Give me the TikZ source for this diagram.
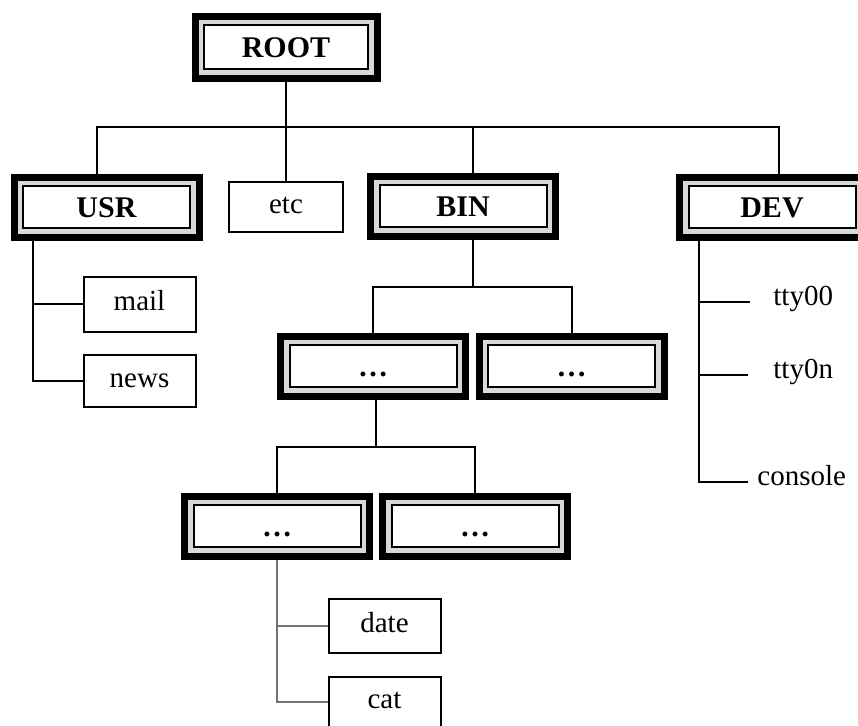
\documentclass[tikz,border=0pt]{standalone}
\usepackage{fontspec}
\setmainfont{Liberation Serif}

\newcommand{\dirfont}{\fontsize{15}{17}\selectfont\bfseries}
\newcommand{\filefont}{\fontsize{14.5}{16}\selectfont}

\tikzset{
  dirbox/.style={draw=black, line width=3.5pt, fill=gray!30, inner sep=0pt,
    minimum width=92.5pt, minimum height=30pt, font=\dirfont,
    text height=10pt, text depth=0pt,
    path picture={\draw[line width=1pt, fill=white]
      ([shift={(4.5pt,4.5pt)}]path picture bounding box.south west) rectangle
      ([shift={(-4.5pt,-4.5pt)}]path picture bounding box.north east);}},
  filebox/.style={draw=black, line width=1pt, fill=white, inner sep=0pt,
    minimum width=56pt, minimum height=26.5pt, font=\filefont,
    text height=8.5pt, text depth=2pt},
  devitem/.style={inner sep=0pt, anchor=west, font=\filefont,
    text height=8pt, text depth=4pt},
  link/.style={line width=1pt}
}

\begin{document}
\begin{tikzpicture}[x=0.5pt, y=-0.5pt]
% Page: 858 x 726 px, 1 px = 0.5pt, y grows downwards
\useasboundingbox (0,0) rectangle (858,726);
\fill[white] (0,0) rectangle (858,726);

% Top level
\node[dirbox, minimum width=91pt, minimum height=31pt] (root) at (286,47.5) {ROOT};
\node[dirbox] (usr) at (106.5,207.5) {USR};
\node[filebox, minimum width=57pt, minimum height=25pt] (etc) at (286,207) {etc};
\node[dirbox] (bin) at (463,206.5) {BIN};
\node[dirbox] (dev) at (772,207.5) {DEV};

\coordinate (bus1) at (286,127);
\draw[link] (root.south) -- (etc.north);
\draw[link] ([xshift=-4.75pt]usr.north) |- (bus1);
\draw[link] ([xshift=5pt]bin.north) |- (bus1);
\draw[link] ([xshift=3.5pt]dev.north) |- (bus1);

% USR
\node[filebox, minimum height=27.5pt] (mail) at (139.5,304.5) {mail};
\node[filebox, minimum height=26pt] (news) at (139.5,381) {news};
\draw[link] ([xshift=-36.75pt]usr.south) |- (mail.west);
\draw[link] ([xshift=-36.75pt]usr.south) |- (news.west);

% BIN, two levels down
\node[dirbox] (bin1) at (373,366.5) {…};
\node[dirbox] (bin2) at (571.5,366.5) {…};
\coordinate (bus2) at (473,287);
\draw[link] ([xshift=5pt]bin.south) -- (bus2);
\draw[link] (bin1.north) |- (bus2);
\draw[link] (bin2.north) |- (bus2);

\node[dirbox] (sub1) at (277,526.5) {…};
\node[dirbox] (sub2) at (475,526.5) {…};
\coordinate (bus3) at (376,447);
\draw[link] ([xshift=1.5pt]bin1.south) -- (bus3);
\draw[link] (sub1.north) |- (bus3);
\draw[link] (sub2.north) |- (bus3);

\node[filebox, minimum height=27pt] (date) at (384.5,626.5) {date};
\node[filebox, minimum height=25pt] (cat) at (384.5,702) {cat};
\draw[link, black!55] (sub1.south) |- (date.west);
\draw[link, black!55] (sub1.south) |- (cat.west);

% DEV
\node[devitem] (tty00) at (773,302) {tty00};
\node[devitem] (tty0n) at (773,375) {tty0n};
\node[devitem] (console) at (757,482) {console};
\draw[link] ([xshift=-36.5pt]dev.south) |- ([xshift=-11.5pt]tty00.west);
\draw[link] ([xshift=-36.5pt]dev.south) |- ([xshift=-12.5pt]tty0n.west);
\draw[link] ([xshift=-36.5pt]dev.south) |- ([xshift=-4.5pt]console.west);
\end{tikzpicture}
\end{document}
